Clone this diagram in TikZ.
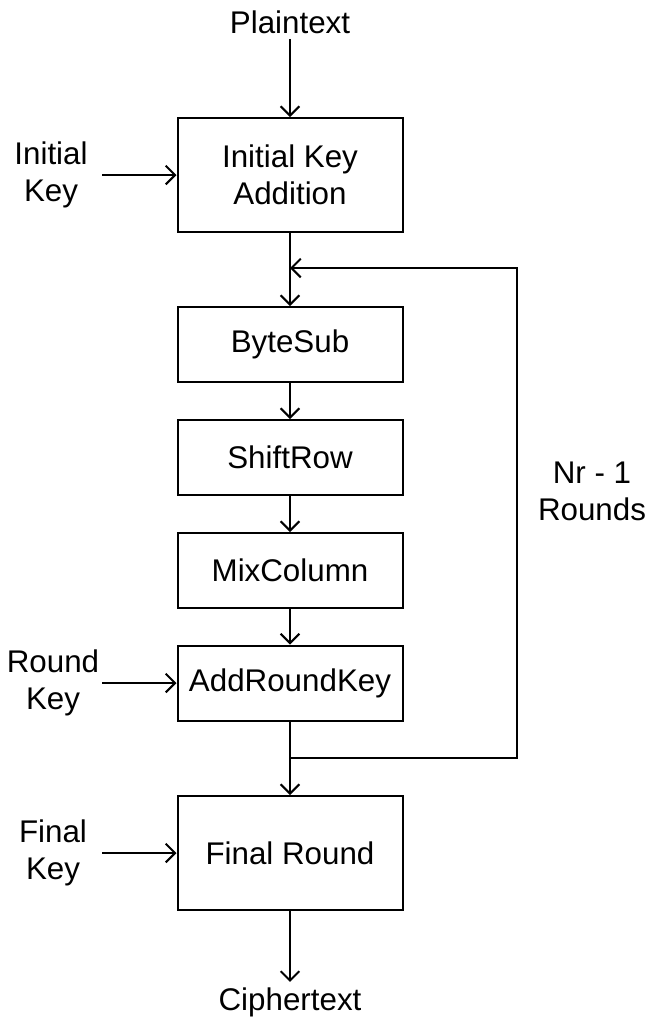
\documentclass[tikz,border=0pt]{standalone}
\usepackage{fontspec}
\setmainfont{Liberation Sans}
\usetikzlibrary{arrows.meta}

\begin{document}
\begin{tikzpicture}[x=0.75pt, y=-0.75pt, line width=1.5pt,
  >={Straight Barb[length=7pt,width=14pt]},
  every node/.style={font=\fontsize{23.5}{27.75}\selectfont, align=center},
  bigbox/.style={draw, minimum width=168.75pt, minimum height=85.5pt, inner sep=0pt},
  smallbox/.style={draw, minimum width=168.75pt, minimum height=56.25pt, inner sep=0pt}]
\useasboundingbox (0,0) rectangle (653,1026);
\node (pt) at (290,22) {Plaintext};
\node[bigbox] (ika) at (290,175) {Initial Key\\Addition};
\node[smallbox] (bs) at (290,344.5) {ByteSub};
\node[smallbox] (sr) at (290,457.5) {ShiftRow};
\node[smallbox] (mc) at (290,570.5) {MixColumn};
\node[smallbox] (ark) at (290,683) {AddRoundKey};
\node[bigbox] (fr) at (290,853) {Final Round};
\node (ct) at (290,1002) {Ciphertext};
\node (ik) at (51,175) {Initial\\Key};
\node (rk) at (53,683) {Round\\Key};
\node (fk) at (53,853) {Final\\Key};
\node (nr) at (592,491) {Nr - 1\\Rounds};
% key inputs start here
\coordinate (ik0) at (102,175);
\coordinate (rk0) at (102,683);
\coordinate (fk0) at (102,853);
% loop corners
\coordinate (j) at (290,758);
\coordinate (c1) at (517,758);
\coordinate (c2) at (517,268);
\coordinate (m) at (290,268);
\draw[->] (pt) -- (ika);
\draw[->] (ik0) -- (ika);
\draw[->] (ika) -- (bs);
\draw[->] (bs) -- (sr);
\draw[->] (sr) -- (mc);
\draw[->] (mc) -- (ark);
\draw[->] (rk0) -- (ark);
\draw[->] (ark) -- (fr);
\draw[->] (j) -- (c1) -- (c2) -- (m);
\draw[->] (fk0) -- (fr);
\draw[->] (fr) -- (ct);
\end{tikzpicture}
\end{document}
